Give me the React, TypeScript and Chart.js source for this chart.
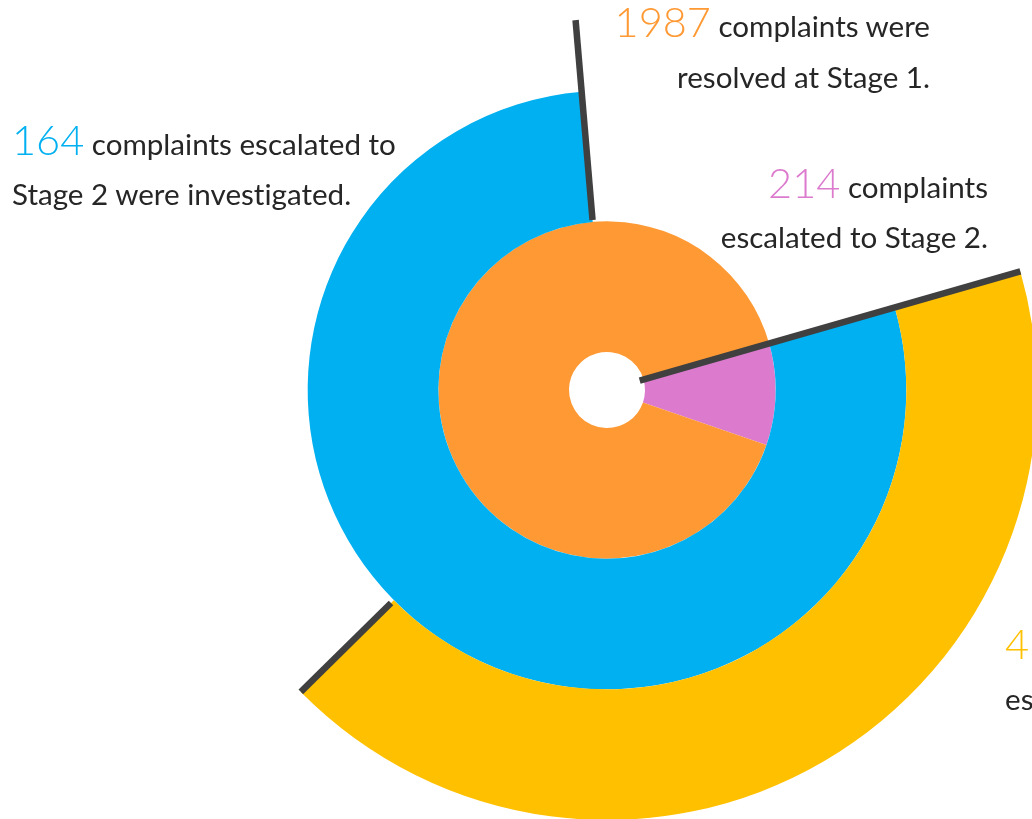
import React, { useEffect, useRef } from "react";
import { Chart, registerables } from "chart.js";

Chart.register(...registerables);

// ---- data ----
const innerLabels = ["Escalated to Stage 2", "Resolved at Stage 1"];
const innerValues = [214, 1987];
const middleLabels = ["Stage 2 investigated", "Not investigated"];
const middleValues = [164, 46];
const outerLabels = ["Escalated to Stage 3", "Remainder"];
const outerValues = [45, 62];

const ORANGE = "#FF9933";
const PINK = "#DC7BCE";
const BLUE = "#00B0F0";
const YELLOW = "#FFC000";
const LINE = "#404040";
const TEXT = "#262626";

const innerColors = [PINK, ORANGE];
const middleColors = [BLUE, "rgba(0,0,0,0)"];
const outerColors = [YELLOW, "rgba(0,0,0,0)"];

const FONT = "Lato, 'Open Sans', sans-serif";
const BIG = 41.5;
const SMALL = 29.6;
const ASC = 0.887;

const dividerPlugin = {
  id: "dividers",
  afterDatasetsDraw(chart: any) {
    const ctx = chart.ctx;
    const outer = chart.getDatasetMeta(0).data;
    const middle = chart.getDatasetMeta(1).data;
    const inner = chart.getDatasetMeta(2).data;
    if (!outer.length || !middle.length || !inner.length) return;
    const o = outer[0];
    const m = middle[0];
    const i = inner[0];
    const cx = o.x;
    const cy = o.y;
    const seg = (a: number, r1: number, r2: number) => {
      ctx.beginPath();
      ctx.moveTo(cx + r1 * Math.cos(a), cy + r1 * Math.sin(a));
      ctx.lineTo(cx + r2 * Math.cos(a), cy + r2 * Math.sin(a));
      ctx.stroke();
    };
    ctx.save();
    ctx.strokeStyle = LINE;
    ctx.lineWidth = 6.5;
    ctx.lineCap = "butt";
    // start of all rings
    seg(i.startAngle, i.innerRadius - 4, o.outerRadius);
    // end of the blue ring
    seg(m.endAngle, m.innerRadius + 2, o.innerRadius + (o.outerRadius - o.innerRadius) * 0.55);
    // end of the yellow ring
    seg(o.endAngle, o.innerRadius + 4, o.outerRadius);
    ctx.restore();
  },
};

function Line({
  baseline,
  num,
  numColor,
  text,
  left,
  right,
}: {
  baseline: number;
  num?: string;
  numColor?: string;
  text: string;
  left?: number;
  right?: number;
}) {
  const top = baseline - ASC * (num ? BIG : SMALL);
  const style: React.CSSProperties = {
    position: "absolute",
    top,
    display: "flex",
    alignItems: "baseline",
    whiteSpace: "pre",
    fontFamily: FONT,
    fontVariantLigatures: "none",
    color: TEXT,
    lineHeight: 1,
  };
  if (left !== undefined) style.left = left;
  if (right !== undefined) style.right = 1032 - right;
  return (
    <div style={style}>
      {num && (
        <span style={{ fontSize: BIG, fontWeight: 300, color: numColor, lineHeight: 1 }}>{num}</span>
      )}
      <span style={{ fontSize: SMALL, fontWeight: 400, lineHeight: 1 }}>{text}</span>
    </div>
  );
}

export default function App() {
  const ref = useRef<HTMLCanvasElement>(null);

  useEffect(() => {
    if (!ref.current) return;
    const chart = new Chart(ref.current, {
      type: "doughnut",
      data: {
        labels: innerLabels,
        datasets: [
          { label: outerLabels.join(" / "), data: outerValues, backgroundColor: outerColors, borderWidth: 0 },
          { label: middleLabels.join(" / "), data: middleValues, backgroundColor: middleColors, borderWidth: 0 },
          { label: innerLabels.join(" / "), data: innerValues, backgroundColor: innerColors, borderWidth: 0 },
        ],
      },
      options: {
        responsive: false,
        animation: false,
        devicePixelRatio: 1,
        rotation: 74,
        radius: 430,
        cutout: "8.84%",
        events: [],
        layout: { padding: { left: 182, right: 0, top: 0, bottom: 39 } },
        plugins: { legend: { display: false }, tooltip: { enabled: false } },
      } as any,
      plugins: [dividerPlugin],
    });
    return () => chart.destroy();
  }, []);

  return (
    <div
      style={{
        position: "fixed",
        left: 0,
        top: 0,
        width: 1032,
        height: 819,
        overflow: "hidden",
        background: "#fff",
      }}
    >
      <canvas ref={ref} width={1032} height={819} style={{ position: "absolute", left: 0, top: 0 }} />
      <Line baseline={156} left={12} num="164" numColor={BLUE} text=" complaints escalated to" />
      <Line baseline={205} left={12} text="Stage 2 were investigated." />
      <Line baseline={38} right={930} num="1987" numColor={ORANGE} text=" complaints were" />
      <Line baseline={88} right={930} text="resolved at Stage 1." />
      <Line baseline={199} right={988} num="214" numColor={PINK} text=" complaints" />
      <Line baseline={248} right={988} text="escalated to Stage 2." />
      <Line baseline={660} left={1005} num="45" numColor={YELLOW} text=" complaints" />
      <Line baseline={710} left={1005} text="escalated to Stage 3." />
    </div>
  );
}
